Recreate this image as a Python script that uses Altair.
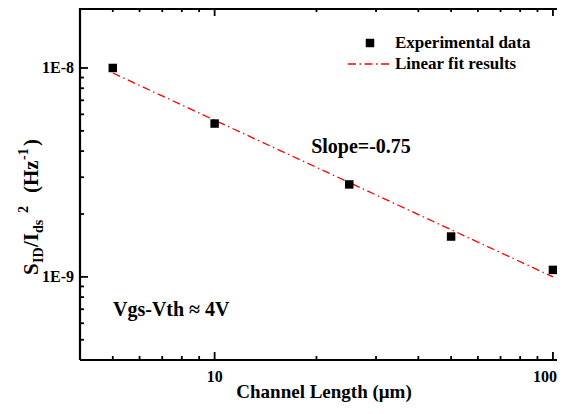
import altair as alt
import pandas as pd

# ---- data ----
length_um = [5, 10, 25, 50, 100]
noise = [1.0e-8, 5.42e-9, 2.77e-9, 1.56e-9, 1.08e-9]
fit_length = [5, 100]
fit_noise = [9.46e-9, 1.0e-9]
x_major = [10, 100]
x_minor = [5, 6, 7, 8, 9, 20, 30, 40, 50, 60, 70, 80, 90]
y_major = [1e-9, 1e-8]
y_minor = [5e-10, 6e-10, 7e-10, 8e-10, 9e-10,
           2e-9, 3e-9, 4e-9, 5e-9, 6e-9, 7e-9, 8e-9, 9e-9]
x_labels = ["10", "100"]
y_labels = ["1E-9", "1E-8"]

W, H = 477, 352
FONT = "Liberation Serif"

xs = alt.Scale(type="log", domain=[4, 102.8], nice=False)
ys = alt.Scale(type="log", domain=[4e-10, 1.937e-8], nice=False)

pts = pd.DataFrame({"L": length_um, "S": noise})
fit = pd.DataFrame({"L": fit_length, "S": fit_noise})
xlab_a = pd.DataFrame({"v": x_major[:-1], "lab": x_labels[:-1]})
xlab_b = pd.DataFrame({"v": x_major[-1:], "lab": x_labels[-1:]})
ylab = pd.DataFrame({"v": y_major, "lab": y_labels})
dummy = pd.DataFrame({"a": [0]})


def X(field):
    return alt.X(field, scale=xs, axis=None)


def Y(field):
    return alt.Y(field, scale=ys, axis=None)


points = alt.Chart(pts).mark_square(size=72, color="black", opacity=1).encode(
    x=X("L:Q"), y=Y("S:Q"))

fit_line = alt.Chart(fit).mark_line(color="#ff0000", strokeWidth=1.3,
                                    strokeDash=[8, 3.5, 1.5, 3.5]).encode(
    x=X("L:Q"), y=Y("S:Q"))

TICKFONT = dict(font=FONT, fontSize=16, fontWeight="bold", color="black")

# x tick labels (last one kept inside the page edge)
xlab_first = alt.Chart(xlab_a).mark_text(
    align="center", baseline="top", **TICKFONT).encode(
    x=X("v:Q"), y=alt.value(H + 9), text=alt.Text("lab:N"))
xlab_last = alt.Chart(xlab_b).mark_text(
    align="right", baseline="top", dx=4, **TICKFONT).encode(
    x=X("v:Q"), y=alt.value(H + 9), text=alt.Text("lab:N"))
ylabels = alt.Chart(ylab).mark_text(
    align="right", baseline="middle", **TICKFONT).encode(
    y=Y("v:Q"), x=alt.value(-6), text=alt.Text("lab:N"))


def xticks(vals, length, top):
    d = pd.DataFrame({"v": vals})
    y0, y1 = (0, length) if top else (H, H - length)
    return alt.Chart(d).mark_rule(color="black", strokeWidth=1.8).encode(
        x=X("v:Q"), y=alt.value(y0), y2=alt.value(y1))


def yticks(vals, length):
    d = pd.DataFrame({"v": vals})
    return alt.Chart(d).mark_rule(color="black", strokeWidth=1.8).encode(
        y=Y("v:Q"), x=alt.value(0), x2=alt.value(length))


ticks = [
    xticks(x_major, 8, False), xticks(x_minor, 4, False),
    xticks(x_major, 8, True), xticks(x_minor, 4, True),
    yticks(y_major, 8), yticks(y_minor, 4),
]

frame = [
    alt.Chart(dummy).mark_rule(color="black", strokeWidth=2.2).encode(
        x=alt.value(0), y=alt.value(0), y2=alt.value(H)),
    alt.Chart(dummy).mark_rule(color="black", strokeWidth=2.2).encode(
        x=alt.value(0), x2=alt.value(W), y=alt.value(1)),
    alt.Chart(dummy).mark_rule(color="black", strokeWidth=2.2).encode(
        x=alt.value(0), x2=alt.value(W), y=alt.value(H)),
]


def label(text, x, y, size, align="left", baseline="middle", angle=0, dx=0, dy=0):
    kw = dict(font=FONT, fontSize=size, fontWeight="bold", color="black",
              align=align, baseline=baseline, dx=dx, dy=dy)
    if angle:
        kw["angle"] = angle
    return alt.Chart(dummy).mark_text(**kw).encode(
        x=alt.value(x), y=alt.value(y), text=alt.value(text))


# y-axis title pieces (rotated), S_ID / I_ds^2 (Hz^-1)
TX, TY = -42, 267
ytitle = [
    label("S", TX, TY, 21, baseline="alphabetic", angle=270, dx=0),
    label("ID", TX, TY, 14, baseline="alphabetic", angle=270, dx=12, dy=5),
    label("/I", TX, TY, 21, baseline="alphabetic", angle=270, dx=28),
    label("ds", TX, TY, 14, baseline="alphabetic", angle=270, dx=42, dy=5),
    label("2", TX, TY, 14, baseline="alphabetic", angle=270, dx=62, dy=-10),
    label("(Hz", TX, TY, 21, baseline="alphabetic", angle=270, dx=82),
    label("-1", TX, TY, 14, baseline="alphabetic", angle=270, dx=115, dy=-10),
    label(")", TX, TY, 21, baseline="alphabetic", angle=270, dx=129),
]

texts = [
    label("Channel Length (\u03bcm)", 244, 390, 19, align="center",
          baseline="alphabetic"),
    label("Slope=-0.75", 281, 139, 20, align="center"),
    label("Vgs-Vth \u2248 4V", 33, 302, 20),
    label("Experimental data", 315, 35, 17),
    label("Linear fit results", 315, 56, 17),
]

legend_marks = [
    alt.Chart(dummy).mark_square(size=72, color="black", opacity=1).encode(
        x=alt.value(290), y=alt.value(35)),
    alt.Chart(dummy).mark_rule(color="#ff0000", strokeWidth=1.3,
                               strokeDash=[8, 3.5, 1.5, 3.5]).encode(
        x=alt.value(268), x2=alt.value(310), y=alt.value(56)),
]

chart = alt.layer(
    fit_line, points, xlab_first, xlab_last, ylabels, *ticks, *frame, *ytitle,
    *texts, *legend_marks
).properties(
    width=W, height=H,
    autosize=alt.AutoSizeParams(type="none"),
    padding={"left": 72, "top": 0, "right": 0, "bottom": 42},
).configure_view(stroke=None).configure(background="white")

chart.save("out.html", embed_options={"renderer": "svg", "actions": False})
